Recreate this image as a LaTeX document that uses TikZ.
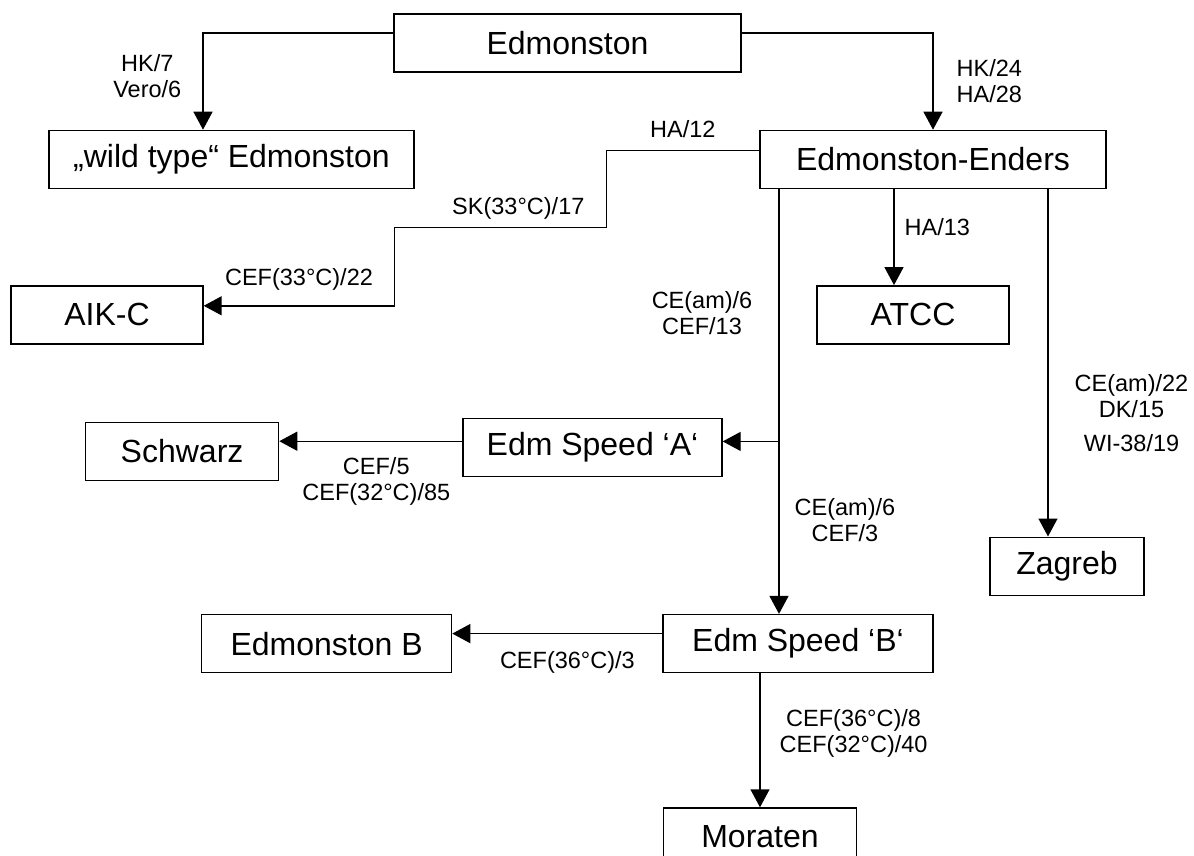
\documentclass[tikz,border=0pt]{standalone}
\usepackage{fontspec}
\setmainfont{Liberation Sans}
\usetikzlibrary{arrows.meta, positioning}
\tikzstyle{strain}  = [rectangle, minimum height=29pt, inner sep=0pt, text centered,
                       draw=black, line width=0.7pt, font=\fontsize{16}{19}\selectfont]
\tikzstyle{passage} = [align=center, inner sep=2pt, font=\fontsize{11.75}{13}\selectfont]
\tikzstyle{arrow}   = [-{Triangle[length=9pt, width=9.5pt]}, line width=0.7pt]

\begin{document}
\begin{tikzpicture}
    \useasboundingbox (-283.75pt,21.5pt) rectangle (313.25pt,-406.5pt);
    \node (edm) [strain, minimum width=173.5pt] {Edmonston};
    \node (wild) [strain, minimum width=182.5pt, below=28.5pt of edm, xshift=-168pt] {„wild type“ Edmonston};
    \node (enders) [strain, minimum width=173pt, below=28.5pt of edm, xshift=182.75pt] {Edmonston-Enders};
    \node (aikc) [strain, minimum width=96pt, below=48pt of wild, xshift=-62.25pt] {AIK-C};
    \node (atcc) [strain, minimum width=96pt, below=48pt of enders, xshift=-10pt] {ATCC};
    \node (speeda) [strain, minimum width=129.5pt, below=36.5pt of atcc, xshift=-160.25pt] {Edm Speed ‘A‘};
    \node (schwarz) [strain, minimum width=96.5pt, left=91.5pt of speeda, yshift=-2pt] {Schwarz};
    \node (zagreb) [strain, minimum width=77pt, below=96pt of atcc, xshift=77pt] {Zagreb};
    \node (speedb) [strain, minimum width=135pt, below=68.5pt of speeda, xshift=102.75pt] {Edm Speed ‘B‘};
    \node (edmb) [strain, minimum width=125pt, left=105pt of speedb] {Edmonston B};
    \node (moraten) [strain, minimum width=96.5pt, below=67pt of speedb, xshift=-19pt] {Moraten};

    \draw[arrow] ([yshift=5pt]edm.west) -| node[passage, left=8.5pt, pos=0.724] {HK/7\\Vero/6} ([xshift=-14.25pt]wild.north);
    \draw[arrow] ([yshift=5pt]edm.east) -| node[passage, right=9.5pt, pos=0.75] {HK/24\\HA/28} (enders.north);
    \draw[arrow] ([yshift=4.5pt]enders.west) -- node[passage, above=3.8pt] {HA/12} ++(-76.5pt,0) -- ++(0,-38.5pt)
        -- node[passage, above=1.6pt, pos=0.415] {SK(33°C)/17} ++(-106pt,0)
        |- node[passage, above=5.3pt, pos=0.75] {CEF(33°C)/22} ([yshift=4.5pt]aikc.east);
    \draw[arrow] ([xshift=-19.5pt]enders.south) -- node[passage, right=3pt, pos=0.4] {HA/13} ([xshift=-9.5pt]atcc.north);
    \draw[arrow] ([xshift=-77pt]enders.south) -- node[passage, left=11pt, pos=0.293] {CE(am)/6\\CEF/13}
        coordinate[pos=0.594] (fork)
        node[passage, right=5.5pt, pos=0.78] {CE(am)/6\\CEF/3} ([xshift=-9.5pt]speedb.north);
    \draw[arrow] (fork) -- (fork -| speeda.east);
    \draw[arrow] ([yshift=3pt]speeda.west) -- node[passage, below=6pt, pos=0.47] {CEF/5\\CEF(32°C)/85} ([yshift=5pt]schwarz.east);
    \draw[arrow] ([xshift=57.5pt]enders.south) -- node[passage, right=11pt, pos=0.646] {CE(am)/22\\DK/15\\[4pt]WI-38/19} ([xshift=-9.5pt]zagreb.north);
    \draw[arrow] ([yshift=5pt]speedb.west) -- node[passage, below=6.6pt, pos=0.452] {CEF(36°C)/3} ([yshift=5pt]edmb.east);
    \draw[arrow] ([xshift=-19pt]speedb.south) -- node[passage, right=7.5pt, pos=0.45] {CEF(36°C)/8\\CEF(32°C)/40} (moraten.north);
\end{tikzpicture}
\end{document}
